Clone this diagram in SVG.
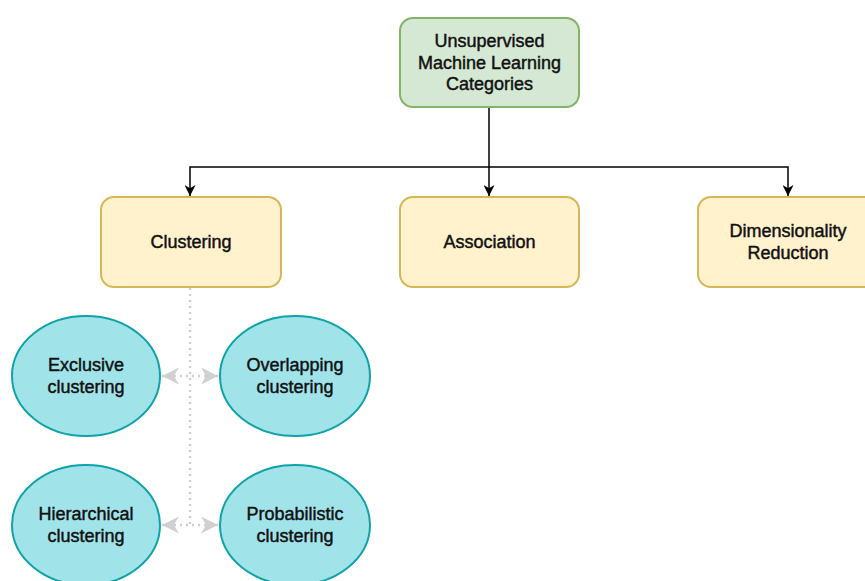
<svg xmlns="http://www.w3.org/2000/svg" width="865" height="581" viewBox="0 0 865 581">
<style>
text{font-family:"Liberation Sans",Arial,sans-serif;font-size:18px;fill:#111;stroke:#111;stroke-width:0.45;text-anchor:middle}
.g{fill:#d5e8d4;stroke:#82b366;stroke-width:2}
.y{fill:#fff2cc;stroke:#d6b656;stroke-width:2}
.e{fill:#a0e4e9;stroke:#10a2aa;stroke-width:2}
.c{fill:none;stroke:#000;stroke-width:1.5}
.d{fill:none;stroke:#cfcfcf;stroke-width:2.5;stroke-dasharray:2 4}
</style>
<defs>
<marker id="a" viewBox="0 0 10 10" refX="10" refY="5" markerWidth="11" markerHeight="11" markerUnits="userSpaceOnUse" orient="auto"><path d="M0,0 L10,5 L0,10 L3,5 Z" fill="#000"/></marker>
<marker id="b" viewBox="0 0 10 10" refX="10" refY="5" markerWidth="17" markerHeight="17" markerUnits="userSpaceOnUse" orient="auto-start-reverse"><path d="M0,0 L10,5 L0,10 L3,5 Z" fill="#d0d0d0"/></marker>
</defs>
<rect width="865" height="581" fill="#fff"/>
<g id="connectors">
<path class="c" d="M489,107 V167"/>
<path class="c" d="M489,167 H190 V196" marker-end="url(#a)"/>
<path class="c" d="M489,167 V196" marker-end="url(#a)"/>
<path class="c" d="M489,167 H788 V196" marker-end="url(#a)"/>
<path class="d" d="M190,288 V525"/>
<path class="d" d="M162,376 H218" marker-start="url(#b)" marker-end="url(#b)"/>
<path class="d" d="M162,525 H218" marker-start="url(#b)" marker-end="url(#b)"/>
</g>
<g id="root"><rect class="g" x="400" y="18" width="179" height="89" rx="13"/><text x="489.5" y="47">Unsupervised</text><text x="489.5" y="69">Machine Learning</text><text x="489.5" y="90">Categories</text></g>
<g id="clustering"><rect class="y" x="101" y="197" width="180" height="90" rx="13"/><text x="191" y="248">Clustering</text></g>
<g id="association"><rect class="y" x="400" y="197" width="179" height="90" rx="13"/><text x="489.5" y="248">Association</text></g>
<g id="dimred"><rect class="y" x="698" y="197" width="180" height="90" rx="13"/><text x="788" y="237">Dimensionality</text><text x="788" y="259">Reduction</text></g>
<g id="exclusive"><ellipse class="e" cx="86" cy="376" rx="74" ry="60"/><text x="86" y="371">Exclusive</text><text x="86" y="393">clustering</text></g>
<g id="overlapping"><ellipse class="e" cx="295" cy="376" rx="75" ry="60"/><text x="295" y="371">Overlapping</text><text x="295" y="393">clustering</text></g>
<g id="hierarchical"><ellipse class="e" cx="86" cy="525" rx="74" ry="60"/><text x="86" y="520">Hierarchical</text><text x="86" y="542">clustering</text></g>
<g id="probabilistic"><ellipse class="e" cx="295" cy="525" rx="75" ry="60"/><text x="295" y="520">Probabilistic</text><text x="295" y="542">clustering</text></g>
</svg>
